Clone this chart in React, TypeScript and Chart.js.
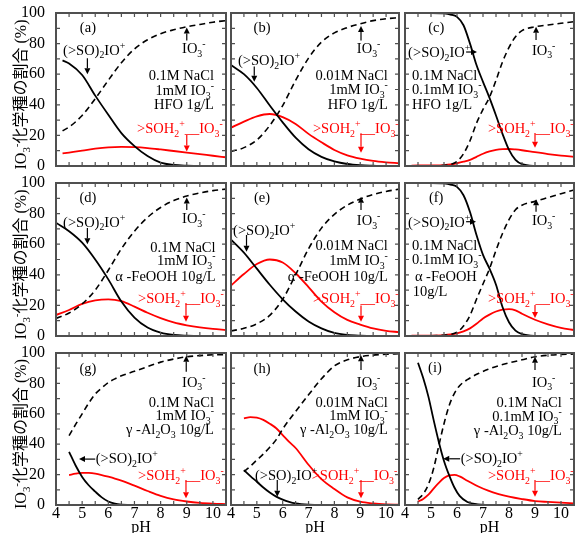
import React, { useEffect, useRef } from 'react';
import { Chart, registerables } from 'chart.js';
Chart.register(...registerables);

// ---------- axis ticks ----------
const X_TICKS = [4, 5, 6, 7, 8, 9, 10];
const Y_TICKS = [0, 20, 40, 60, 80, 100];
const X_MINOR = [4.5, 5, 5.5, 6, 6.5, 7, 7.5, 8, 8.5, 9, 9.5, 10];
const Y_MINOR = [10, 20, 30, 40, 50, 60, 70, 80, 90];

// ---------- data (pH, % of IO3- species) ----------
const PH_A = [4.25, 4.5, 5, 5.5, 6, 6.5, 7, 7.5, 8, 8.5, 9, 9.5, 10, 10.5];
const A_SO2IO = [69, 67, 59.5, 46, 33.5, 21.5, 13, 6.5, 2.2, 0.7, 0.2, 0, 0, 0];
const A_IO3 = [23, 25.5, 33, 44, 56, 67.5, 76.5, 82.5, 86.5, 89, 91, 92.5, 94, 95];
const A_SOH2 = [8.2, 8.8, 10, 11.3, 12.2, 12.5, 12.3, 11.7, 10.8, 9.8, 8.8, 7.8, 6.7, 5.7];

const PH_B = [4, 4.5, 5, 5.5, 6, 6.5, 7, 7.5, 8, 8.5, 9, 9.5, 10, 10.5];
const B_SO2IO = [66, 60, 51, 39.5, 28.5, 18.5, 11, 6, 3, 1.3, 0.5, 0.2, 0, 0];
const B_IO3 = [9.5, 12, 17, 26.5, 39.5, 56, 70.5, 81, 87, 90.5, 93, 95, 96.2, 97];
const B_SOH2 = [25, 29, 32.5, 34, 32, 27.5, 21, 15.5, 10.5, 7, 4.8, 3.3, 2.4, 1.8];

const PH_C = [4.25, 5, 5.5, 5.75, 6, 6.25, 6.5, 6.75, 7, 7.25, 7.5, 7.75, 8, 8.25, 8.5, 9, 9.5, 10, 10.5];
const C_SO2IO = [100, 100, 99.7, 99, 97.5, 92, 80, 66, 55, 44.5, 33, 21, 10.5, 4, 1.2, 0.1, 0, 0, 0];
const C_IO3 = [0, 0.1, 0.4, 1, 3, 8, 16.5, 28, 37, 45, 56, 68, 77.5, 84.5, 88.5, 91, 92.2, 93.3, 94.3];
const C_SOH2 = [0.3, 0.4, 0.6, 1, 1.8, 2.8, 4, 6, 8, 9.5, 10.5, 11, 11.1, 10.8, 10.3, 9, 7.8, 6.8, 6];

const PH_D = [4, 4.5, 5, 5.5, 6, 6.5, 7, 7.5, 8, 8.5, 9, 9.5, 10, 10.5];
const D_SO2IO = [74, 68.5, 61, 50, 37, 22.5, 12, 5.5, 2.2, 0.7, 0.2, 0, 0, 0];
const D_IO3 = [11.5, 15, 21, 30, 43, 57, 68.5, 77.5, 84, 88.5, 91.5, 93.5, 95, 96];
const D_SOH2 = [13.7, 17, 21, 23.3, 24, 22.8, 19.2, 15.2, 11.7, 8.9, 7, 5.6, 4.6, 3.9];

const PH_E = [4, 4.5, 5, 5.5, 6, 6.5, 7, 7.5, 8, 8.5, 9, 9.5, 10, 10.5];
const E_SO2IO = [63, 54.5, 44, 33.5, 24, 16, 9.5, 5, 2, 0.7, 0.2, 0, 0, 0];
const E_IO3 = [3.3, 5, 8, 13.5, 24, 40, 57, 70.5, 79.5, 85.5, 89.5, 92.5, 94.5, 96];
const E_SOH2 = [33, 40.5, 47, 50, 48, 41, 32, 22.5, 15.5, 10.5, 7.5, 5, 3.4, 2.5];

const PH_F = [4.25, 5, 5.5, 5.75, 6, 6.25, 6.5, 6.75, 7, 7.25, 7.5, 7.75, 8, 8.25, 8.5, 9, 9.5, 10, 10.5];
const F_SO2IO = [100, 100, 99.7, 99, 97.5, 92, 81, 66, 53, 44, 33.5, 19, 9, 3.5, 1.2, 0.1, 0, 0, 0];
const F_IO3 = [0, 0.1, 0.5, 1, 2.5, 6.5, 13.5, 24, 34, 44, 56, 67, 76, 82.5, 85.5, 88, 90.5, 93, 95.4];
const F_SOH2 = [0.2, 0.3, 0.6, 1, 1.7, 3, 5, 8, 11.5, 14, 16, 17.3, 17.6, 16.8, 14.5, 10.6, 7.6, 5.3, 3.9];

const PH_G = [4.5, 4.75, 5, 5.25, 5.5, 5.75, 6, 6.25, 6.5, 7, 7.5, 8, 8.5, 9, 9.5, 10, 10.5];
const G_SO2IO = [35, 26, 18.5, 13, 8.8, 5, 2.3, 0.9, 0.3, 0, 0, 0, 0, 0, 0, 0, 0];
const G_IO3 = [45.6, 53, 60, 67, 73, 77, 80.5, 83, 85, 88, 91, 94, 96, 97.5, 98.3, 98.8, 99];
const G_SOH2 = [19.7, 20.6, 21.2, 21.1, 20.6, 19.7, 18.6, 17.4, 16, 12.7, 9.2, 6, 3.7, 2.3, 1.4, 0.9, 0.6];

const PH_H = [4.5, 4.75, 5, 5.25, 5.5, 5.75, 6, 6.25, 6.5, 7, 7.5, 8, 8.5, 9, 9.5, 10, 10.5];
const H_SO2IO = [23, 19, 15.3, 11.5, 8.2, 5.5, 3.5, 2, 1, 0.2, 0, 0, 0, 0, 0, 0, 0];
const H_IO3 = [22, 25.5, 29.6, 33.5, 38, 43, 50, 56, 61.5, 72.5, 83, 91.5, 95.5, 97.6, 98.6, 99.2, 99.5];
const H_SOH2 = [57, 57.8, 57.5, 56, 53.5, 50.5, 46, 41.5, 37.5, 26.5, 17, 10.5, 5, 2.2, 1, 0.4, 0.2];

const PH_I = [4.5, 4.7, 4.9, 5.1, 5.3, 5.5, 5.7, 5.9, 6.1, 6.4, 6.8, 7.2, 7.6, 8, 8.5, 9, 9.5, 10, 10.5];
const I_SO2IO = [93.6, 83.5, 71.3, 56, 41.5, 29, 19.5, 11.5, 6, 2, 0.4, 0.1, 0, 0, 0, 0, 0, 0, 0];
const I_IO3 = [3.7, 7.3, 13.5, 24, 39, 53.5, 65.5, 73.5, 78.5, 82.5, 86.3, 89.3, 91.6, 93.5, 95.5, 97.5, 98.5, 99, 99.3];
const I_SOH2 = [2.2, 4, 6.8, 10.8, 14.5, 17.7, 19.5, 19.8, 18.8, 16, 12.3, 9.4, 7.2, 5.5, 3.9, 2.6, 2, 1.5, 1.1];

// ---------- texts ----------
const Y_TITLE = 'IO_{3}^{-}化学種の割合 (%)';
const X_TITLE = 'pH';
const LBL_COMPLEX = '(>SO)_{2}IO^{+}';
const LBL_FREE = 'IO_{3}^{-}';
const LBL_PAIR = '>SOH_{2}^{+}__IO_{3}^{-}';

// ---------- layout / style ----------
const W = 579;
const H = 533;
const COL_L = [56, 231, 405];
const COL_R = [226, 399, 574];
const ROW_T = [13, 183, 353];
const ROW_B = [166, 336, 505];
const Y_AXIS_W = 50;
const SERIF = "'Liberation Serif', 'Times New Roman', serif";
const TITLE_FAMILY = "'Liberation Serif', 'Noto Sans CJK JP', serif";
const RED = '#ff0000';
const FRAME = '#505050';
const ANN_SIZE = 14.5;

type Txt = { t: string; x: number; y: number; a: 'left' | 'right' | 'center'; c?: string };
type Arr = { x1: number; y1: number; x2: number; y2: number; c?: string };
type PanelSpec = {
  id: string; row: number; col: number;
  ph: number[]; so2io: number[]; io3: number[]; soh2: number[];
  texts: Txt[]; arrows: Arr[];
};

const cond = (lines: string[], x: number, ys: number[], a: 'left' | 'right'): Txt[] =>
  lines.map((t, i) => ({ t, x, y: ys[i], a }));

const PANELS: PanelSpec[] = [
  {
    id: 'a', row: 0, col: 0, ph: PH_A, so2io: A_SO2IO, io3: A_IO3, soh2: A_SOH2,
    texts: [
      { t: '(a)', x: 5.22, y: 90.8, a: 'center' },
      { t: LBL_COMPLEX, x: 4.27, y: 76, a: 'left' },
      { t: LBL_FREE, x: 8.82, y: 77, a: 'left' },
      ...cond(['0.1M NaCl', '1mM IO_{3}^{-}', 'HFO 1g/L'], 10.04, [59.5, 49.7, 40.3], 'right'),
      { t: LBL_PAIR, x: 7.1, y: 24.8, a: 'left', c: RED },
    ],
    arrows: [
      { x1: 5.2, y1: 70.5, x2: 5.2, y2: 60 },
      { x1: 9, y1: 82, x2: 9, y2: 90.5 },
      { x1: 9, y1: 20.3, x2: 9, y2: 9.5, c: RED },
    ],
  },
  {
    id: 'b', row: 0, col: 1, ph: PH_B, so2io: B_SO2IO, io3: B_IO3, soh2: B_SOH2,
    texts: [
      { t: '(b)', x: 5.2, y: 91, a: 'center' },
      { t: LBL_COMPLEX, x: 4.27, y: 69, a: 'left' },
      { t: LBL_FREE, x: 8.87, y: 77, a: 'left' },
      ...cond(['0.01M NaCl', '1mM IO_{3}^{-}', 'HFO 1g/L'], 10.07, [59.5, 50.3, 40.5], 'right'),
      { t: LBL_PAIR, x: 7.17, y: 24.8, a: 'left', c: RED },
    ],
    arrows: [
      { x1: 4.9, y1: 65, x2: 4.9, y2: 55 },
      { x1: 9.03, y1: 82, x2: 9.03, y2: 91.5 },
      { x1: 9.03, y1: 21.4, x2: 9.03, y2: 8.7, c: RED },
    ],
  },
  {
    id: 'c', row: 0, col: 2, ph: PH_C, so2io: C_SO2IO, io3: C_IO3, soh2: C_SOH2,
    texts: [
      { t: '(c)', x: 5.2, y: 91, a: 'center' },
      { t: LBL_COMPLEX, x: 4.12, y: 74.5, a: 'left' },
      { t: LBL_FREE, x: 8.88, y: 76, a: 'left' },
      ...cond(['0.1M NaCl', '0.1mM IO_{3}^{-}', 'HFO 1g/L'], 4.27, [59.5, 50.3, 40.5], 'left'),
      { t: LBL_PAIR, x: 7.19, y: 24.8, a: 'left', c: RED },
    ],
    arrows: [
      { x1: 6.35, y1: 74.5, x2: 6.77, y2: 74.5 },
      { x1: 9.04, y1: 82.4, x2: 9.04, y2: 91 },
      { x1: 9.0, y1: 21.5, x2: 9.0, y2: 12, c: RED },
    ],
  },
  {
    id: 'd', row: 1, col: 0, ph: PH_D, so2io: D_SO2IO, io3: D_IO3, soh2: D_SOH2,
    texts: [
      { t: '(d)', x: 5.22, y: 90.8, a: 'center' },
      { t: LBL_COMPLEX, x: 4.27, y: 74.7, a: 'left' },
      { t: LBL_FREE, x: 8.82, y: 77, a: 'left' },
      ...cond(['0.1M NaCl', '1mM IO_{3}^{-}', 'α -FeOOH 10g/L'], 10.1, [58.4, 49.7, 39.2], 'right'),
      { t: LBL_PAIR, x: 7.14, y: 24.8, a: 'left', c: RED },
    ],
    arrows: [
      { x1: 5.2, y1: 70.6, x2: 5.2, y2: 60 },
      { x1: 9, y1: 82.4, x2: 9, y2: 90.5 },
      { x1: 8.97, y1: 21.5, x2: 8.97, y2: 9.3, c: RED },
    ],
  },
  {
    id: 'e', row: 1, col: 1, ph: PH_E, so2io: E_SO2IO, io3: E_IO3, soh2: E_SOH2,
    texts: [
      { t: '(e)', x: 5.2, y: 90.8, a: 'center' },
      { t: LBL_COMPLEX, x: 4.08, y: 69.3, a: 'left' },
      { t: LBL_FREE, x: 8.87, y: 75.8, a: 'left' },
      ...cond(['0.01M NaCl', '1mM IO_{3}^{-}', 'α -FeOOH 10g/L'], 10.07, [59.5, 49.7, 39.2], 'right'),
      { t: LBL_PAIR, x: 7.17, y: 24.8, a: 'left', c: RED },
    ],
    arrows: [
      { x1: 4.6, y1: 66, x2: 4.6, y2: 55 },
      { x1: 9.03, y1: 82.4, x2: 9.03, y2: 91 },
      { x1: 9.03, y1: 20, x2: 9.03, y2: 9.3, c: RED },
    ],
  },
  {
    id: 'f', row: 1, col: 2, ph: PH_F, so2io: F_SO2IO, io3: F_IO3, soh2: F_SOH2,
    texts: [
      { t: '(f)', x: 5.2, y: 90.8, a: 'center' },
      { t: LBL_COMPLEX, x: 4.12, y: 74.7, a: 'left' },
      { t: LBL_FREE, x: 8.88, y: 75.8, a: 'left' },
      ...cond(['0.1M NaCl', '0.1mM IO_{3}^{-}'], 4.27, [59.5, 50.1], 'left'),
      { t: 'α -FeOOH', x: 4.38, y: 39.2, a: 'left' },
      { t: '10g/L', x: 4.3, y: 29.6, a: 'left' },
      { t: LBL_PAIR, x: 7.19, y: 24.6, a: 'left', c: RED },
    ],
    arrows: [
      { x1: 6.35, y1: 74.7, x2: 6.73, y2: 74.7 },
      { x1: 9.04, y1: 81.2, x2: 9.04, y2: 89.3 },
      { x1: 9.0, y1: 20.3, x2: 9.0, y2: 11.8, c: RED },
    ],
  },
  {
    id: 'g', row: 2, col: 0, ph: PH_G, so2io: G_SO2IO, io3: G_IO3, soh2: G_SOH2,
    texts: [
      { t: '(g)', x: 5.22, y: 90, a: 'center' },
      { t: LBL_FREE, x: 8.82, y: 81, a: 'left' },
      ...cond(['0.1M NaCl', '1mM IO_{3}^{-}', 'γ -Al_{2}O_{3} 10g/L'], 10.04, [68, 59.2, 49.8], 'right'),
      { t: LBL_COMPLEX, x: 5.52, y: 30.7, a: 'left' },
      { t: LBL_PAIR, x: 7.14, y: 19.7, a: 'left', c: RED },
    ],
    arrows: [
      { x1: 8.98, y1: 87.7, x2: 8.98, y2: 98.2 },
      { x1: 5.5, y1: 30.2, x2: 4.88, y2: 30.2 },
      { x1: 8.97, y1: 16.4, x2: 8.97, y2: 4.4, c: RED },
    ],
  },
  {
    id: 'h', row: 2, col: 1, ph: PH_H, so2io: H_SO2IO, io3: H_IO3, soh2: H_SOH2,
    texts: [
      { t: '(h)', x: 5.2, y: 90, a: 'center' },
      { t: LBL_FREE, x: 8.87, y: 81, a: 'left' },
      ...cond(['0.01M NaCl', '1mM IO_{3}^{-}', 'γ -Al_{2}O_{3} 10g/L'], 10.07, [68, 59.2, 49.8], 'right'),
      { t: LBL_COMPLEX, x: 4.93, y: 19.7, a: 'left' },
      { t: LBL_PAIR, x: 7.12, y: 19.7, a: 'left', c: RED },
    ],
    arrows: [
      { x1: 9.03, y1: 88.8, x2: 9.03, y2: 98.5 },
      { x1: 5.79, y1: 16.4, x2: 5.79, y2: 5.5 },
      { x1: 9.03, y1: 16.4, x2: 9.03, y2: 4.4, c: RED },
    ],
  },
  {
    id: 'i', row: 2, col: 2, ph: PH_I, so2io: I_SO2IO, io3: I_IO3, soh2: I_SOH2,
    texts: [
      { t: '(i)', x: 5.15, y: 91, a: 'center' },
      { t: LBL_FREE, x: 8.88, y: 81, a: 'left' },
      ...cond(['0.1M NaCl', '0.1mM IO_{3}^{-}', 'γ -Al_{2}O_{3} 10g/L'], 10.03, [68, 58.6, 49.3], 'right'),
      { t: LBL_COMPLEX, x: 6.14, y: 30.7, a: 'left' },
      { t: LBL_PAIR, x: 7.19, y: 19.7, a: 'left', c: RED },
    ],
    arrows: [
      { x1: 9.0, y1: 88.8, x2: 9.0, y2: 97.6 },
      { x1: 6.12, y1: 30.4, x2: 5.47, y2: 30.4 },
      { x1: 9.0, y1: 16.4, x2: 9.0, y2: 5.5, c: RED },
    ],
  },
];

// ---------- rich text helpers ----------
type Seg = { t: string; k: 0 | 1 | 2 };
function parseRich(s: string): Seg[] {
  const out: Seg[] = [];
  let buf = '';
  let i = 0;
  while (i < s.length) {
    if ((s[i] === '_' || s[i] === '^') && s[i + 1] === '{') {
      if (buf) { out.push({ t: buf, k: 0 }); buf = ''; }
      const end = s.indexOf('}', i);
      out.push({ t: s.slice(i + 2, end), k: s[i] === '_' ? 1 : 2 });
      i = end + 1;
    } else {
      buf += s[i];
      i++;
    }
  }
  if (buf) out.push({ t: buf, k: 0 });
  return out;
}

function drawRich(ctx: CanvasRenderingContext2D, s: string, x: number, cy: number, size: number,
  align: 'left' | 'right' | 'center', color: string, family: string) {
  const segs = parseRich(s);
  const small = size * 0.68;
  const widths = segs.map((sg) => {
    ctx.font = `${sg.k ? small : size}px ${family}`;
    return ctx.measureText(sg.t).width;
  });
  const total = widths.reduce((a, b) => a + b, 0);
  let x0 = align === 'left' ? x : align === 'right' ? x - total : x - total / 2;
  const base = cy + size * 0.34;
  ctx.fillStyle = color;
  ctx.textAlign = 'left';
  ctx.textBaseline = 'alphabetic';
  segs.forEach((sg, i) => {
    ctx.font = `${sg.k ? small : size}px ${family}`;
    const dy = sg.k === 1 ? size * 0.25 : sg.k === 2 ? -size * 0.42 : 0;
    ctx.fillText(sg.t, x0, base + dy);
    x0 += widths[i];
  });
}

function drawArrow(ctx: CanvasRenderingContext2D, x1: number, y1: number, x2: number, y2: number, color: string) {
  const ang = Math.atan2(y2 - y1, x2 - x1);
  const hl = 6, hw = 3;
  const c = Math.cos(ang), s = Math.sin(ang);
  ctx.strokeStyle = color;
  ctx.fillStyle = color;
  ctx.lineWidth = 1.2;
  ctx.beginPath();
  ctx.moveTo(x1, y1);
  ctx.lineTo(x2 - hl * c, y2 - hl * s);
  ctx.stroke();
  ctx.beginPath();
  ctx.moveTo(x2, y2);
  ctx.lineTo(x2 - hl * c + hw * s, y2 - hl * s - hw * c);
  ctx.lineTo(x2 - hl * c - hw * s, y2 - hl * s + hw * c);
  ctx.closePath();
  ctx.fill();
}

function makeConfig(p: PanelSpec): any {
  const L = COL_L[p.col], R = COL_R[p.col], T = ROW_T[p.row], B = ROW_B[p.row];
  const isLeft = p.col === 0;
  const isBottom = p.row === 2;
  const toXY = (vals: number[]) => p.ph.map((x, i) => ({ x, y: vals[i] }));
  const decor = {
    id: 'decor' + p.id,
    afterDraw(chart: any) {
      const ctx: CanvasRenderingContext2D = chart.ctx;
      const xs = chart.scales.x, ys = chart.scales.y;
      const { left, right, top, bottom } = chart.chartArea;
      ctx.save();
      // inner ticks
      ctx.strokeStyle = FRAME;
      ctx.lineWidth = 1.2;
      ctx.beginPath();
      X_MINOR.forEach((v) => {
        const px = xs.getPixelForValue(v);
        ctx.moveTo(px, bottom); ctx.lineTo(px, bottom - 4);
        ctx.moveTo(px, top); ctx.lineTo(px, top + 4);
      });
      Y_MINOR.forEach((v) => {
        const py = ys.getPixelForValue(v);
        ctx.moveTo(left, py); ctx.lineTo(left + 4, py);
        ctx.moveTo(right, py); ctx.lineTo(right - 4, py);
      });
      ctx.stroke();
      // frame
      ctx.lineWidth = 2;
      ctx.strokeRect(left, top, right - left, bottom - top);
      // annotations
      p.texts.forEach((t) => {
        drawRich(ctx, t.t, xs.getPixelForValue(t.x), ys.getPixelForValue(t.y), ANN_SIZE, t.a, t.c || '#000', SERIF);
      });
      p.arrows.forEach((a) => {
        drawArrow(ctx, xs.getPixelForValue(a.x1), ys.getPixelForValue(a.y1),
          xs.getPixelForValue(a.x2), ys.getPixelForValue(a.y2), a.c || '#000');
      });
      // y title
      if (isLeft) {
        ctx.translate(21, (top + bottom) / 2 + 5);
        ctx.rotate(-Math.PI / 2);
        drawRich(ctx, Y_TITLE, 0, 0, 16, 'center', '#000', TITLE_FAMILY);
      }
      ctx.restore();
    },
  };
  return {
    type: 'line',
    data: {
      datasets: [
        { data: toXY(p.so2io), borderColor: '#000', borderWidth: 1.8, pointRadius: 0, cubicInterpolationMode: 'monotone', fill: false },
        { data: toXY(p.io3), borderColor: '#000', borderWidth: 1.6, borderDash: [6, 4], pointRadius: 0, cubicInterpolationMode: 'monotone', fill: false },
        { data: toXY(p.soh2), borderColor: RED, borderWidth: 1.8, pointRadius: 0, cubicInterpolationMode: 'monotone', fill: false },
      ],
    },
    options: {
      responsive: false,
      maintainAspectRatio: false,
      animation: false,
      events: [],
      layout: {
        padding: {
          left: isLeft ? L - Y_AXIS_W : L,
          top: T,
          right: W - R,
          bottom: isBottom ? 0 : H - B,
        },
      },
      plugins: { legend: { display: false }, tooltip: { enabled: false } },
      scales: {
        x: {
          type: 'linear', min: 4, max: 10.5, display: isBottom, position: 'bottom',
          grid: { display: false }, border: { display: false },
          afterBuildTicks: (s: any) => { s.ticks = X_TICKS.map((v) => ({ value: v })); },
          ticks: { font: { family: SERIF, size: 16 }, color: '#000', padding: -9, maxRotation: 0, autoSkip: false },
          title: { display: isBottom, text: X_TITLE, color: '#000', font: { family: SERIF, size: 16, lineHeight: 1 }, padding: { top: 0, bottom: -3 } },
          afterFit: (s: any) => { s.height = isBottom ? H - B : 0; },
        },
        y: {
          type: 'linear', min: 0, max: 100, display: isLeft,
          grid: { display: false }, border: { display: false },
          afterBuildTicks: (s: any) => { s.ticks = Y_TICKS.map((v) => ({ value: v })); },
          ticks: { font: { family: SERIF, size: 16 }, color: '#000', padding: 3 },
          afterFit: (s: any) => { s.width = isLeft ? Y_AXIS_W : 0; },
        },
      },
    },
    plugins: [decor],
  };
}

function Panel({ p }: { p: PanelSpec }) {
  const ref = useRef<HTMLCanvasElement>(null);
  useEffect(() => {
    const chart = new Chart(ref.current as HTMLCanvasElement, makeConfig(p));
    return () => chart.destroy();
  }, [p]);
  return (
    <canvas ref={ref} width={W} height={H}
      style={{ position: 'absolute', left: 0, top: 0, width: W, height: H }} />
  );
}

export default function App() {
  return (
    <div style={{ position: 'fixed', left: 0, top: 0, width: W, height: H, background: '#fff', overflow: 'hidden' }}>
      {PANELS.map((p) => <Panel key={p.id} p={p} />)}
    </div>
  );
}
